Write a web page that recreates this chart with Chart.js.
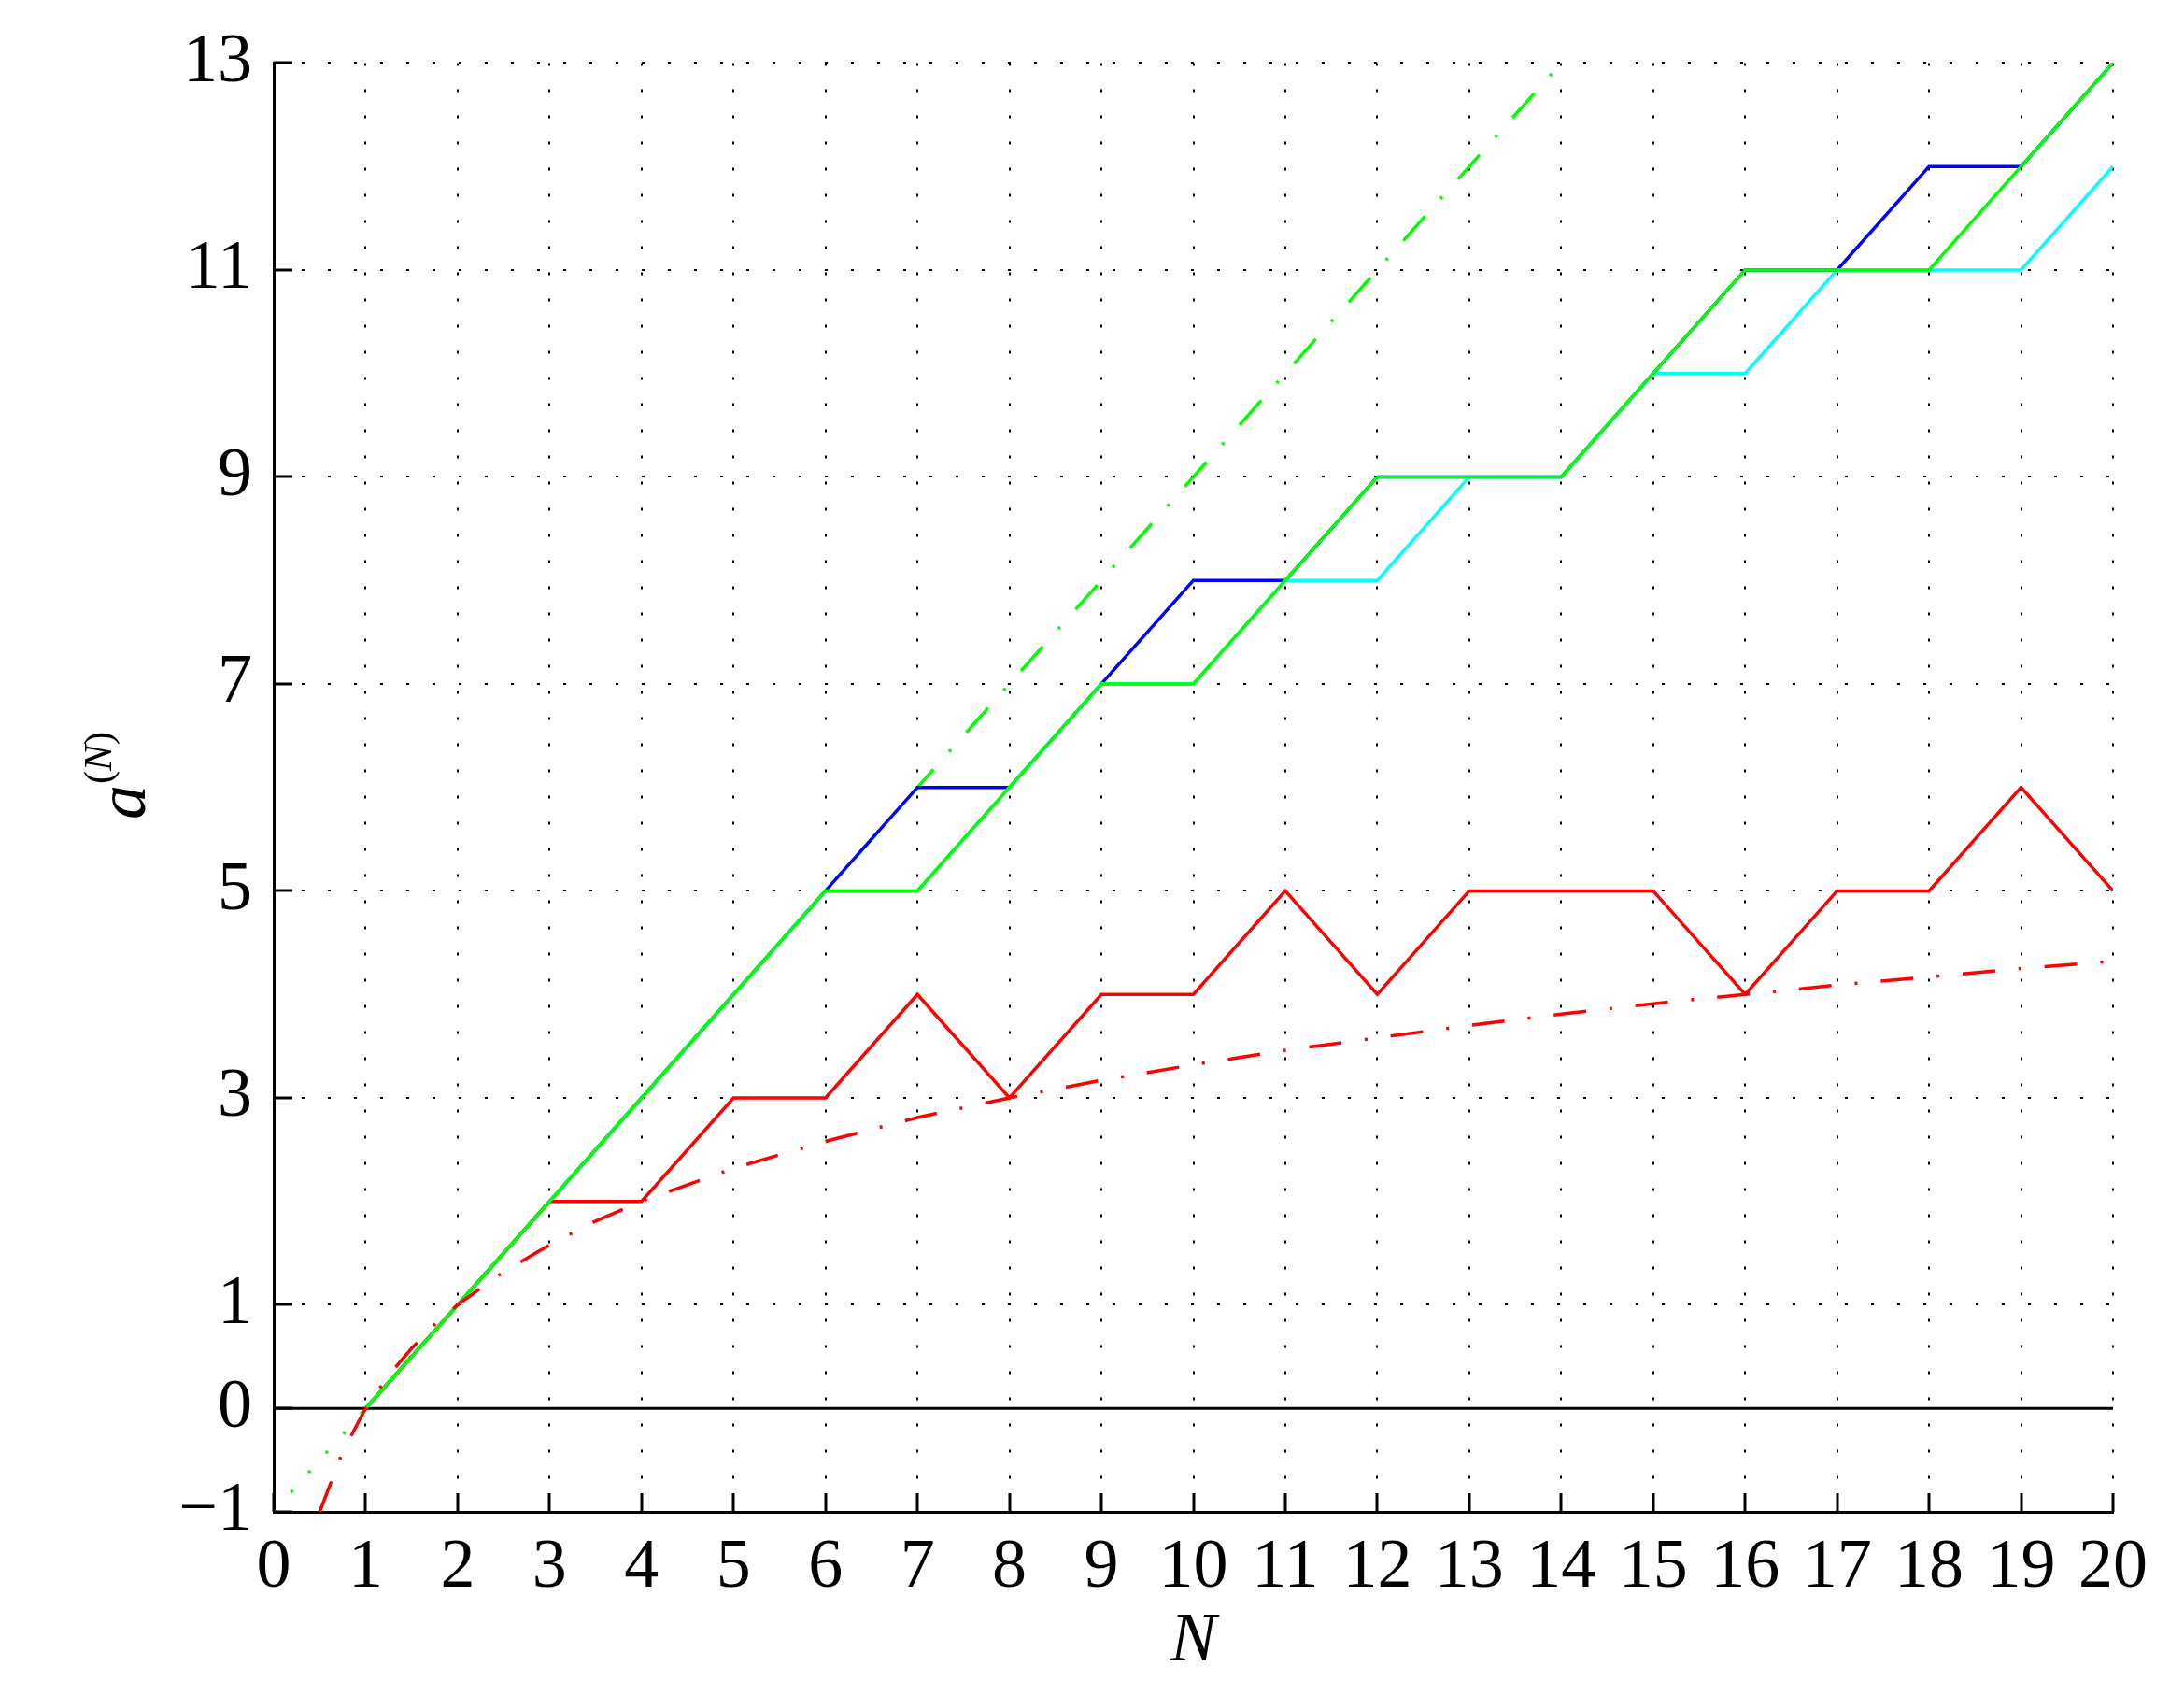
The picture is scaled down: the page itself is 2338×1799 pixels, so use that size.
<!DOCTYPE html>
<html>
<head>
<meta charset="utf-8">
<script src="https://cdn.jsdelivr.net/npm/chart.js@4/dist/chart.umd.min.js"></script>
<style>
html,body{margin:0;padding:0;background:#fff;}
canvas{display:block;}
</style>
</head>
<body>
<canvas id="c" width="2338" height="1799"></canvas>
<script>
// ---- data ----
const N = [1,2,3,4,5,6,7,8,9,10,11,12,13,14,15,16,17,18,19,20];
const blueVals  = [0,1,2,3,4,5,6,6,7,8,8,9,9,9,10,11,11,12,12,13];
const cyanVals  = [0,1,2,3,4,5,5,6,7,7,8,8,9,9,10,10,11,11,11,12];
const greenVals = [0,1,2,3,4,5,5,6,7,7,8,9,9,9,10,11,11,11,12,13];
const redVals   = [0,1,2,2,3,3,4,3,4,4,5,4,5,5,5,4,5,5,6,5];
// red dash-dot reference curve
const curveN    = [0.5,0.75,1,1.25,1.5,1.75,2,2.5,3,3.5,4,5,6,7,8,9,10,11,12,13,14,15,16,17,18,19,20];
const curveVals = [-1,-0.42,0,0.32,0.58,0.81,1,1.32,1.58,1.81,2,2.32,2.58,2.81,3,3.17,3.32,3.46,3.58,3.7,3.81,3.91,4,4.09,4.17,4.25,4.32];
// green dotted start and dash-dot reference line
const gDotN = [0,1];
const gDotVals = [-1,0];
const gDashN = [1,14];
const gDashVals = [0,13];
// zero line
const zeroN = [0,20];
const zeroVals = [0,0];
// tick labels
const xTicks = [0,1,2,3,4,5,6,7,8,9,10,11,12,13,14,15,16,17,18,19,20];
const yTicks = [-1,0,1,3,5,7,9,11,13];

const pts = (xs, ys) => xs.map((x,i)=>({x:x, y:ys[i]}));
const FONT = "'Liberation Serif','Times New Roman',serif";

const base = {pointRadius:0, tension:0, fill:false, borderCapStyle:'butt', borderJoinStyle:'miter'};

const datasets = [
  Object.assign({label:'log', data:pts(curveN,curveVals), borderColor:'#ff0000', borderWidth:3.5, borderDash:[35,25,3,25]}, base),
  Object.assign({label:'green', data:pts(N,greenVals), borderColor:'#00ff00', borderWidth:3.5}, base),
  Object.assign({label:'red', data:pts(N,redVals), borderColor:'#ff0000', borderWidth:3.5}, base),
  Object.assign({label:'cyan', data:pts(N,cyanVals), borderColor:'#00ffff', borderWidth:3.5}, base),
  Object.assign({label:'blue', data:pts(N,blueVals), borderColor:'#0000ff', borderWidth:3.5}, base),
  Object.assign({label:'gdash', data:pts(gDashN,gDashVals), borderColor:'#00ff00', borderWidth:3.5, borderDash:[35,25,3,25]}, base),
  Object.assign({label:'gdot', data:pts(gDotN,gDotVals), borderColor:'#00ff00', borderWidth:3.5, borderDash:[3,25]}, base),
  Object.assign({label:'zero', data:pts(zeroN,zeroVals), borderColor:'#000000', borderWidth:3}, base)
];

const decor = {
  id:'decor',
  afterDraw(chart){
    const ctx = chart.ctx;
    const xs = chart.scales.x, ys = chart.scales.y;
    const ca = chart.chartArea;
    ctx.save();
    ctx.strokeStyle = '#000';
    ctx.lineWidth = 3;
    ctx.setLineDash([]);
    ctx.beginPath();
    xTicks.forEach(v=>{
      const px = Math.round(xs.getPixelForValue(v));
      ctx.moveTo(px, ca.bottom); ctx.lineTo(px, ca.bottom-20);
    });
    yTicks.forEach(v=>{
      const py = Math.round(ys.getPixelForValue(v));
      ctx.moveTo(ca.left, py); ctx.lineTo(ca.left+20, py);
    });
    ctx.stroke();
    // x axis title
    ctx.fillStyle = '#000';
    ctx.font = 'italic 74px ' + FONT;
    ctx.textAlign = 'center';
    ctx.textBaseline = 'alphabetic';
    ctx.fillText('N', (ca.left+ca.right)/2, 1777);
    // y axis title a^(N)
    ctx.translate(155, 877);
    ctx.rotate(-Math.PI/2);
    ctx.textAlign = 'left';
    ctx.font = 'italic 74px ' + FONT;
    ctx.fillText('a', 0, 0);
    const aw = ctx.measureText('a').width;
    ctx.font = '42px ' + FONT;
    let x0 = aw + 1;
    ctx.fillText('(', x0, -36); x0 += ctx.measureText('(').width;
    ctx.font = 'italic 42px ' + FONT;
    ctx.fillText('N', x0, -36); x0 += ctx.measureText('N').width;
    ctx.font = '42px ' + FONT;
    ctx.fillText(')', x0, -36);
    ctx.restore();
  }
};

new Chart(document.getElementById('c'), {
  type:'line',
  data:{datasets:datasets},
  options:{
    responsive:false,
    animation:false,
    devicePixelRatio:1,
    layout:{padding:{left:0, top:67, right:76, bottom:0}},
    plugins:{legend:{display:false}, tooltip:{enabled:false}, title:{display:false}},
    scales:{
      x:{
        type:'linear', min:0, max:20,
        afterBuildTicks(s){ s.ticks = xTicks.map(v=>({value:v})); },
        afterFit(s){ s.height = 181; },
        grid:{color:'#000', lineWidth:2, drawTicks:false},
        border:{display:true, color:'#000', width:3, dash:[3,25]},
        ticks:{font:{family:FONT, size:74}, color:'#000', padding:16, maxRotation:0, autoSkip:false}
      },
      y:{
        type:'linear', min:-1, max:13,
        afterBuildTicks(s){ s.ticks = yTicks.map(v=>({value:v})); },
        afterFit(s){ s.width = 293; },
        grid:{color:'#000', lineWidth:2, drawTicks:false},
        border:{display:true, color:'#000', width:3, dash:[3,25]},
        ticks:{font:{family:FONT, size:74}, color:'#000', padding:23, autoSkip:false,
          callback:(v)=> (v<0 ? '\u2212'+Math.abs(v) : String(v))}
      }
    }
  },
  plugins:[decor]
});
</script>
</body>
</html>
